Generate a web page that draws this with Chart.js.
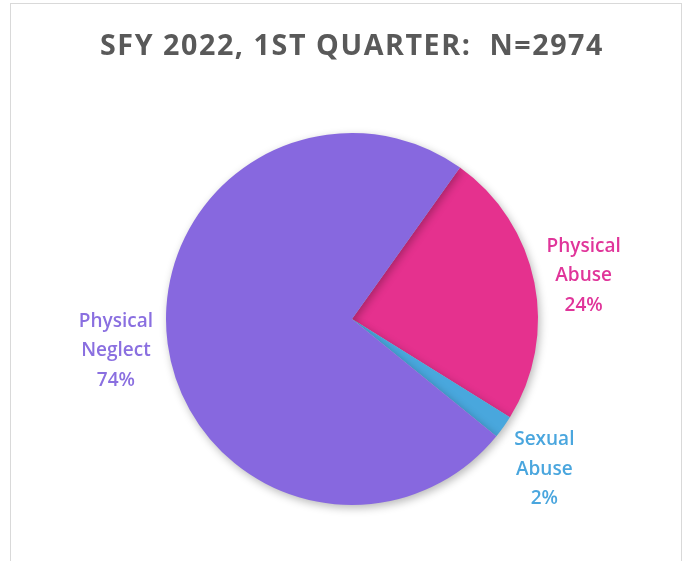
<!DOCTYPE html>
<html>
<head>
<meta charset="utf-8">
<script src="https://cdn.jsdelivr.net/npm/chart.js@4"></script>
<style>
html,body{margin:0;padding:0;background:#fff;}
#wrap{position:relative;width:691px;height:561px;}
</style>
</head>
<body>
<div id="wrap"><canvas id="c" width="691" height="561"></canvas></div>
<script>
const categories = ["Physical Abuse", "Sexual Abuse", "Physical Neglect"];
const labelLines = [["Physical", "Abuse"], ["Sexual", "Abuse"], ["Physical", "Neglect"]];
const percentValues = [24, 2, 74];
const chartTitle = "SFY 2022, 1ST QUARTER:  N=2974";

const sliceColors = ["#E5318E", "#49A7DD", "#8768DF"];
const labelColors = ["#E0359A", "#4AA6DE", "#8A6FE0"];
const labelNudge = [[0, 3], [0, 13], [-2, 0]];

const frame = {
  id: 'frame',
  beforeDraw(chart) {
    const ctx = chart.ctx;
    ctx.save();
    ctx.fillStyle = '#fff';
    ctx.fillRect(0, 0, chart.width, chart.height);
    ctx.strokeStyle = '#d9d9d9';
    ctx.lineWidth = 1;
    ctx.strokeRect(10.5, 3.5, 671, 600);
    ctx.restore();
    ctx.letterSpacing = '1.6px';
  },
  beforeDatasetsDraw(chart) {
    const ctx = chart.ctx;
    ctx.letterSpacing = '0px';
    ctx.save();
    ctx.shadowColor = 'rgba(0,0,0,0.28)';
    ctx.shadowBlur = 8;
    ctx.shadowOffsetX = 2;
    ctx.shadowOffsetY = 3;
  },
  afterDatasetsDraw(chart) {
    chart.ctx.restore();
    const ctx = chart.ctx;
    const meta = chart.getDatasetMeta(0);
    ctx.save();
    ctx.letterSpacing = '0px';
    ctx.font = '600 19px "Open Sans", Lato, sans-serif';
    ctx.textAlign = 'center';
    ctx.textBaseline = 'middle';
    meta.data.forEach((arc, i) => {
      const p = arc.getProps(['x','y','startAngle','endAngle','outerRadius'], true);
      const mid = (p.startAngle + p.endAngle) / 2;
      const r = p.outerRadius * 1.27;
      const cx = p.x + Math.cos(mid) * r + labelNudge[i][0];
      const cy = p.y + Math.sin(mid) * r + labelNudge[i][1];
      const lines = labelLines[i].concat([percentValues[i] + '%']);
      const lh = 29.5;
      ctx.fillStyle = labelColors[i];
      lines.forEach((t, k) => {
        ctx.fillText(t, cx, cy + (k - (lines.length - 1) / 2) * lh);
      });
    });
    ctx.restore();
  }
};

new Chart(document.getElementById('c'), {
  type: 'pie',
  data: {
    labels: categories,
    datasets: [{
      data: percentValues,
      backgroundColor: sliceColors,
      borderWidth: 0
    }]
  },
  options: {
    responsive: false,
    animation: false,
    rotation: 35.5,
    layout: { padding: { left: 100, right: 87, top: 0, bottom: 56 } },
    plugins: {
      legend: { display: false },
      tooltip: { enabled: false },
      title: {
        display: true,
        text: chartTitle,
        color: '#595959',
        font: { family: '"Open Sans", Lato, sans-serif', size: 29, weight: '700', lineHeight: 1.2 },
        padding: { top: 29, bottom: 69.2 }
      }
    }
  },
  plugins: [frame]
});
</script>
</body>
</html>
